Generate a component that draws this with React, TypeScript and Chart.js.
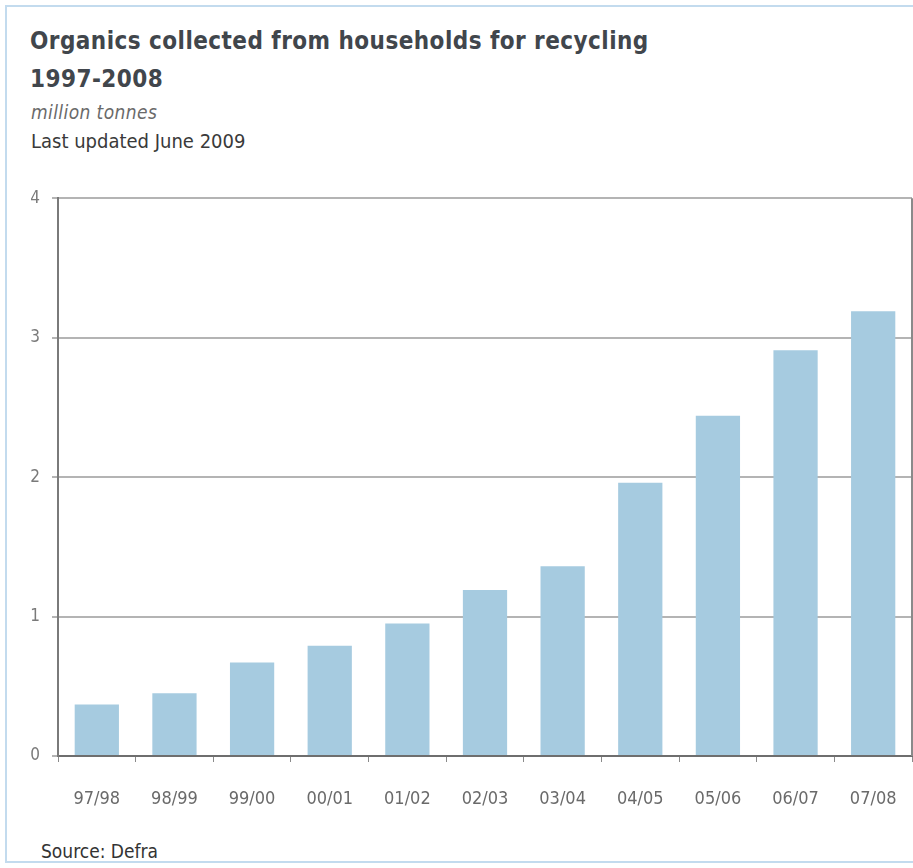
import React, { useEffect, useRef } from "react";
import { Chart, registerables } from "chart.js";

Chart.register(...registerables);

const categories = ["97/98", "98/99", "99/00", "00/01", "01/02", "02/03", "03/04", "04/05", "05/06", "06/07", "07/08"];
const tonnes = [0.37, 0.45, 0.67, 0.79, 0.95, 1.19, 1.36, 1.96, 2.44, 2.91, 3.19];
const yTicks = [0, 1, 2, 3, 4];

const FONT = '"DejaVu Sans Condensed", "Liberation Sans Narrow", "DejaVu Sans", sans-serif';

const rightBorder = {
  id: "rightBorder",
  afterDatasetsDraw(chart: any) {
    const { ctx, chartArea } = chart;
    ctx.save();
    ctx.strokeStyle = "#8a8a8a";
    ctx.lineWidth = 2;
    ctx.beginPath();
    ctx.moveTo(chartArea.right, chartArea.top);
    ctx.lineTo(chartArea.right, chartArea.bottom);
    ctx.stroke();
    ctx.restore();
  },
};

export default function App() {
  const ref = useRef<HTMLCanvasElement | null>(null);
  useEffect(() => {
    if (!ref.current) return;
    const chart = new Chart(ref.current, {
      type: "bar",
      data: {
        labels: categories,
        datasets: [
          {
            data: tonnes,
            backgroundColor: "#a6cbe0",
            barPercentage: 0.57,
            categoryPercentage: 1,
          },
        ],
      },
      options: {
        animation: false,
        responsive: false,
        devicePixelRatio: 1,
        layout: { padding: { top: 20, right: 1, left: 0, bottom: 0 } },
        plugins: { legend: { display: false }, tooltip: { enabled: false }, title: { display: false } },
        scales: {
          x: {
            offset: true,
            afterFit(scale: any) {
              scale.height = 80;
              scale.paddingLeft = 0;
              scale.paddingRight = 0;
            },
            grid: {
              offset: true,
              drawOnChartArea: false,
              drawTicks: true,
              tickLength: 6,
              color: "#8a8a8a",
              lineWidth: 1,
            },
            border: { color: "#6e6e6e", width: 2 },
            ticks: {
              color: "#6a6a6a",
              font: { family: FONT, size: 18 },
              padding: 27,
              maxRotation: 0,
              autoSkip: false,
            },
          },
          y: {
            min: 0,
            max: 4,
            afterFit(scale: any) {
              scale.width = 58;
            },
            afterBuildTicks(scale: any) {
              scale.ticks = yTicks.map((v) => ({ value: v }));
            },
            grid: {
              color: "#b4b4b4",
              lineWidth: 2,
              tickLength: 6,
              drawTicks: true,
            },
            border: { color: "#7a7a7a", width: 2 },
            ticks: {
              color: "#7a7a7a",
              font: { family: FONT, size: 17 },
              padding: 12,
            },
          },
        },
      },
      plugins: [rightBorder],
    });
    return () => chart.destroy();
  }, []);

  return (
    <div style={{ position: "absolute", left: 0, top: 0, width: 913, height: 868, overflow: "hidden", background: "#fff" }}>
      <div
        style={{
          position: "absolute",
          left: 5,
          top: 5,
          width: 940,
          height: 858,
          border: "2px solid #c3dbee",
          boxSizing: "border-box",
        }}
      />
      <div style={{ position: "absolute", left: 30, top: 22, fontFamily: FONT, fontWeight: "bold", fontSize: 24, letterSpacing: 0.45, color: "#41464c", lineHeight: "38px" }}>
        <div>Organics collected from households for recycling</div>
        <div>1997-2008</div>
      </div>
      <div style={{ position: "absolute", left: 31, top: 101, fontFamily: FONT, fontStyle: "italic", fontSize: 19, letterSpacing: 0.4, color: "#6a6a6a" }}>
        million tonnes
      </div>
      <div style={{ position: "absolute", left: 31, top: 129, fontFamily: FONT, fontSize: 20, color: "#3a3a3a" }}>
        Last updated June 2009
      </div>
      <canvas ref={ref} width={913} height={660} style={{ position: "absolute", left: 0, top: 176, width: 913, height: 660 }} />
      <div style={{ position: "absolute", left: 41, top: 840, fontFamily: FONT, fontSize: 19, color: "#333" }}>Source: Defra</div>
    </div>
  );
}
